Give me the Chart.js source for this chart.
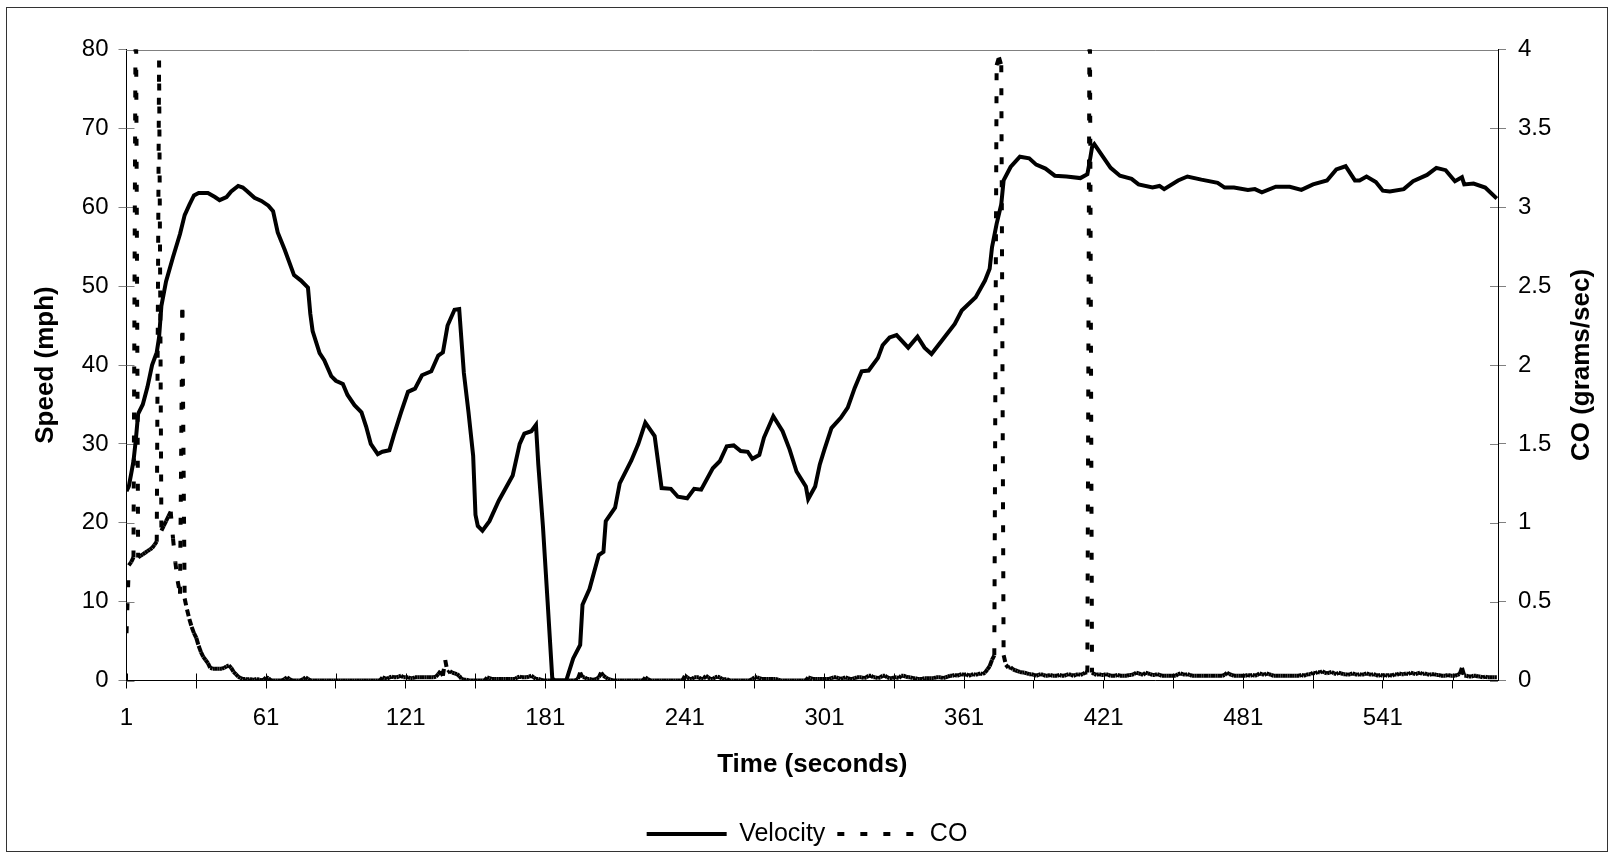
<!DOCTYPE html>
<html>
<head>
<title>Speed and CO</title>
<script src="https://cdn.jsdelivr.net/npm/chart.js"></script>
<style>
    html, body { margin:0; padding:0; background:#fff; }
    #wrap { position:relative; width:1614px; height:859px; }
    #frame { position:absolute; left:6px; top:7px; width:1602px; height:845px; box-sizing:border-box; border:1px solid #333; pointer-events:none; }
</style>
</head>
<body>
<div id="wrap">
    <canvas id="chart" width="1614" height="859"></canvas>
    <div id="frame"></div>
</div>
<script>
// speed trace at its turning points (seconds, mph)
const velTime = [
    1,2,3,4,5,6,8,10,12,14,
    15,16,18,21,24,26,28,30,32,36,
    39,41,44,46,49,51,53,56,59,62,
    64,66,69,73,76,79,80,81,84,86,
    89,91,94,96,99,102,104,106,109,111,
    114,116,119,122,125,128,132,135,137,139,
    142,144,146,148,150,151,152,154,157,161,
    167,170,172,175,177,178,180,182,184,185,
    190,193,196,197,200,204,206,207,211,213,
    218,221,224,228,231,235,238,242,245,248,
    253,256,259,262,265,268,270,273,275,279,
    283,286,289,293,294,297,299,301,304,308,
    311,314,317,320,324,326,329,332,337,341,
    344,347,352,357,360,366,370,372,373,375,
    377,378,381,385,389,392,396,400,405,411,
    414,415,416,417,420,424,428,433,436,442,
    445,447,453,457,463,470,473,477,483,486,
    489,495,501,506,511,517,521,525,529,531,
    534,538,541,544,550,554,560,564,568,572,
    575,576,580,585,590
];
const velSpeed = [
    24.0,24.6,26.2,27.8,30.5,33.8,35.0,37.2,40.0,41.6,
    43.5,47.5,50.6,53.7,56.6,59.0,60.3,61.5,61.8,61.8,
    61.3,60.9,61.3,62.0,62.7,62.5,62.0,61.2,60.8,60.2,
    59.5,56.8,54.6,51.4,50.7,49.8,46.5,44.3,41.5,40.6,
    38.6,38.0,37.6,36.2,34.9,34.0,32.2,30.0,28.7,29.0,
    29.2,31.2,34.0,36.6,37.0,38.7,39.2,41.2,41.6,45.0,
    47.0,47.1,39.0,34.0,28.5,21.0,19.6,19.0,20.2,22.8,
    26.0,30.0,31.3,31.6,32.4,27.4,19.5,10.0,0.3,0,
    0,2.8,4.5,9.6,11.6,15.9,16.3,20.2,21.9,25.0,
    27.9,30.0,32.7,31.0,24.4,24.3,23.3,23.1,24.3,24.2,
    26.9,27.8,29.7,29.8,29.1,29.0,28.1,28.6,30.8,33.5,
    31.6,29.3,26.5,24.6,23.0,24.6,27.4,29.3,32.0,33.3,
    34.6,37.1,39.2,39.3,40.9,42.5,43.5,43.8,42.2,43.6,
    42.2,41.4,43.3,45.2,46.9,48.6,50.7,52.2,54.9,57.9,
    60.4,63.4,65.1,66.4,66.2,65.4,64.9,64.0,63.9,63.7,
    64.2,65.8,67.6,68.0,66.7,65.0,64.0,63.6,62.9,62.5,
    62.7,62.3,63.4,63.9,63.5,63.1,62.5,62.5,62.2,62.3,
    61.9,62.6,62.6,62.2,62.9,63.4,64.8,65.2,63.4,63.4,
    63.9,63.2,62.1,62.0,62.3,63.3,64.1,65.0,64.7,63.3,
    63.8,62.9,63.0,62.5,61.1
];
// CO, one reading per second starting at t = 1 (grams/sec), one row per 30 s
const coValues = [
    0.30,0.73,0.75,0.78,4.6,0.78,0.79,0.80,0.81,0.82,0.83,0.84,0.86,0.88,3.93,0.95,0.98,1.01,1.04,1.07,0.90,0.75,0.63,0.55,2.35,0.52,0.45,0.39,0.34,0.30,
    0.27,0.22,0.18,0.15,0.13,0.11,0.08,0.075,0.075,0.075,0.075,0.075,0.08,0.09,0.095,0.08,0.055,0.04,0.025,0.015,0.01,0.01,0.005,0.01,0.005,0.005,0.01,0.005,0,0.005,
    0.02,0.015,0,0,0,0,0,0,0.01,0.02,0.01,0,0,0,0,0,0.01,0.02,0.01,0,0,0,0,0,0,0,0,0,0,0,
    0,0,0,0,0,0,0,0,0,0,0,0,0,0,0,0,0,0,0,0,0.02,0.015,0.01,0.02,0.025,0.02,0.02,0.025,0.03,0.02,
    0.02,0.02,0.015,0.015,0.02,0.02,0.02,0.02,0.02,0.02,0.02,0.02,0.02,0.025,0.04,0.06,0.03,0.13,0.05,0.06,0.05,0.045,0.04,0.03,0.01,0.005,0.005,0,0,0,
    0,0,0,0,0,0.02,0.015,0.01,0.01,0.01,0.01,0.01,0.01,0.01,0.01,0.01,0.01,0.01,0.02,0.025,0.02,0.02,0.02,0.025,0.03,0.02,0.01,0.01,0.005,0,
    0,0,0,0,0,0,0,0,0,0,0,0,0,0,0.01,0.05,0.02,0.02,0.01,0.01,0.005,0.005,0.01,0.02,0.05,0.03,0.02,0.01,0.005,0,
    0,0,0,0,0,0,0,0,0,0,0,0,0,0.02,0.01,0,0,0,0,0,0,0,0,0,0,0,0,0,0,0,
    0.03,0.02,0.01,0.01,0.02,0.02,0.02,0.01,0.01,0.03,0.02,0.01,0.01,0.02,0.025,0.02,0.01,0.005,0.01,0,0,0,0,0,0,0,0,0,0,0.01,
    0.02,0.02,0.015,0.01,0.01,0.01,0.01,0.01,0.01,0.01,0.005,0,0,0,0,0,0,0,0,0,0,0,0,0.02,0.015,0.01,0.01,0.01,0.01,0.01,
    0.01,0.01,0.01,0.015,0.02,0.02,0.015,0.01,0.015,0.02,0.015,0.01,0.01,0.015,0.02,0.02,0.02,0.015,0.02,0.03,0.03,0.02,0.02,0.015,0.02,0.03,0.03,0.02,0.015,0.015,
    0.02,0.02,0.015,0.03,0.03,0.025,0.02,0.02,0.015,0.015,0.01,0.01,0.01,0.015,0.015,0.015,0.015,0.015,0.02,0.02,0.02,0.015,0.02,0.025,0.03,0.03,0.035,0.03,0.035,0.04,
    0.035,0.04,0.03,0.035,0.04,0.035,0.04,0.045,0.04,0.05,0.07,0.09,0.13,0.16,3.9,3.95,3.9,0.16,0.1,0.08,0.085,0.07,0.065,0.06,0.055,0.05,0.05,0.045,0.04,0.04,
    0.035,0.03,0.035,0.04,0.035,0.03,0.03,0.035,0.03,0.03,0.03,0.035,0.03,0.03,0.035,0.04,0.035,0.03,0.035,0.04,0.035,0.04,0.05,0.05,4.6,0.05,0.04,0.035,0.04,0.035,
    0.035,0.04,0.035,0.03,0.03,0.03,0.035,0.03,0.03,0.03,0.03,0.035,0.035,0.04,0.05,0.045,0.04,0.035,0.05,0.045,0.04,0.035,0.035,0.04,0.035,0.03,0.03,0.03,0.03,0.03,
    0.03,0.03,0.04,0.045,0.04,0.035,0.04,0.035,0.03,0.03,0.03,0.03,0.03,0.03,0.03,0.03,0.03,0.03,0.03,0.03,0.03,0.03,0.035,0.05,0.04,0.035,0.03,0.03,0.03,0.03,
    0.03,0.03,0.035,0.03,0.035,0.03,0.035,0.045,0.04,0.035,0.045,0.04,0.035,0.03,0.03,0.03,0.03,0.03,0.03,0.03,0.03,0.03,0.03,0.03,0.03,0.035,0.03,0.035,0.04,0.04,
    0.05,0.045,0.055,0.05,0.06,0.05,0.045,0.05,0.055,0.045,0.04,0.05,0.045,0.04,0.04,0.035,0.04,0.045,0.04,0.035,0.04,0.035,0.04,0.045,0.04,0.035,0.04,0.035,0.03,0.035,
    0.03,0.035,0.03,0.035,0.03,0.04,0.035,0.045,0.04,0.04,0.045,0.04,0.05,0.045,0.04,0.045,0.05,0.04,0.045,0.04,0.035,0.04,0.04,0.035,0.035,0.03,0.03,0.03,0.035,0.03,
    0.03,0.03,0.035,0.04,0.08,0.03,0.03,0.025,0.025,0.03,0.03,0.025,0.025,0.02,0.025,0.02,0.02,0.02,0.02,0.02
];
const xTicks = [1,31,61,91,121,151,181,211,241,271,301,331,361,391,421,451,481,511,541,571];
const xLabels = [1,61,121,181,241,301,361,421,481,541];

const FONT = '"Liberation Sans", Arial, sans-serif';
const CO_DASH = [7, 16];

// Excel style cross ticks, the gray plot border on top, and the right title read upwards
const axisDecor = {
    id: 'axisDecor',
    beforeDatasetsDraw(chart) {
        const {ctx, chartArea: a, scales} = chart;
        const al = v => Math.round(v) + 0.5;
        ctx.save();
        ctx.strokeStyle = '#808080';
        ctx.lineWidth = 1;
        ctx.beginPath();
        ctx.moveTo(a.left, al(a.top));
        ctx.lineTo(a.right, al(a.top));
        scales.y.ticks.forEach(t => {
            const py = al(scales.y.getPixelForValue(t.value));
            ctx.moveTo(a.left, py); ctx.lineTo(a.left + 8, py);
        });
        scales.y1.ticks.forEach(t => {
            const py = al(scales.y1.getPixelForValue(t.value));
            ctx.moveTo(a.right - 8, py); ctx.lineTo(a.right, py);
        });
        ctx.stroke();
        ctx.strokeStyle = '#000';
        ctx.beginPath();
        scales.x.ticks.forEach(t => {
            const px = al(scales.x.getPixelForValue(t.value));
            ctx.moveTo(px, a.bottom - 7); ctx.lineTo(px, a.bottom);
        });
        ctx.stroke();
        ctx.restore();
    },
    afterDraw(chart) {
        const {ctx, chartArea: a} = chart;
        ctx.save();
        ctx.translate(a.right + 84, (a.top + a.bottom) / 2);
        ctx.rotate(-Math.PI / 2);
        ctx.font = 'bold 26px ' + FONT;
        ctx.fillStyle = '#000';
        ctx.textAlign = 'center';
        ctx.textBaseline = 'middle';
        ctx.fillText('CO (grams/sec)', 0, 0);
        ctx.restore();
    }
};

new Chart(document.getElementById('chart'), {
    type: 'line',
    data: {
        datasets: [{
            label: 'Velocity',
            data: velTime.map((t, i) => ({x: t, y: velSpeed[i]})),
            yAxisID: 'y',
            borderColor: '#000',
            borderWidth: 4,
            pointRadius: 0,
            pointStyle: 'line',
            tension: 0
        }, {
            label: 'CO',
            data: coValues.map((v, i) => ({x: i + 1, y: v})),
            yAxisID: 'y1',
            borderColor: '#000',
            borderWidth: 4,
            borderDash: CO_DASH,
            pointRadius: 0,
            pointStyle: 'line',
            tension: 0,
            // restart the dash on every segment, like the original renderer does
            segment: {borderDashOffset: c => (c.p0DataIndex % 2 ? 0.001 : 0)}
        }]
    },
    options: {
        responsive: false,
        animation: false,
        devicePixelRatio: 1,
        events: [],
        layout: {padding: {top: 49.5, left: 0, right: 0, bottom: 2.5}},
        plugins: {
            legend: {
                position: 'bottom',
                labels: {
                    usePointStyle: true,
                    pointStyleWidth: 80,
                    color: '#000',
                    padding: 12,
                    font: {family: FONT, size: 25},
                    generateLabels: chart => Chart.defaults.plugins.legend.labels.generateLabels(chart).map(item => {
                        const ds = chart.data.datasets[item.datasetIndex];
                        item.lineDash = ds.borderDash || [];
                        item.lineWidth = 4;
                        return item;
                    })
                }
            },
            tooltip: {enabled: false}
        },
        scales: {
            x: {
                type: 'linear',
                min: 1,
                max: 590.5,
                afterBuildTicks: s => { s.ticks = xTicks.map(v => ({value: v})); },
                afterFit: s => { s.height = 129; },
                ticks: {
                    autoSkip: false,
                    maxRotation: 0,
                    padding: 15,
                    color: '#000',
                    font: {family: FONT, size: 24},
                    callback: v => (xLabels.includes(v) ? String(v) : '')
                },
                grid: {drawOnChartArea: false, tickLength: 8, tickColor: '#000'},
                border: {color: '#000', width: 1},
                title: {
                    display: true,
                    text: 'Time (seconds)',
                    color: '#000',
                    font: {family: FONT, size: 26, weight: 'bold'},
                    padding: {top: 0, bottom: 29}
                }
            },
            y: {
                position: 'left',
                min: 0,
                max: 80,
                afterFit: s => { s.width = 126.5; },
                ticks: {stepSize: 10, padding: 10, color: '#000', font: {family: FONT, size: 24}},
                grid: {drawOnChartArea: false, tickLength: 8, tickColor: '#808080'},
                border: {color: '#000', width: 1},
                title: {
                    display: true,
                    text: 'Speed (mph)',
                    color: '#000',
                    font: {family: FONT, size: 26, weight: 'bold'},
                    padding: {top: 30, bottom: 0}
                }
            },
            y1: {
                position: 'right',
                min: 0,
                max: 4,
                afterFit: s => { s.width = 116; },
                ticks: {stepSize: 0.5, padding: 12, color: '#000', font: {family: FONT, size: 24}, callback: v => String(v)},
                grid: {drawOnChartArea: false, tickLength: 8, tickColor: '#808080'},
                border: {color: '#000', width: 1}
            }
        }
    },
    plugins: [axisDecor]
});
</script>
</body>
</html>
